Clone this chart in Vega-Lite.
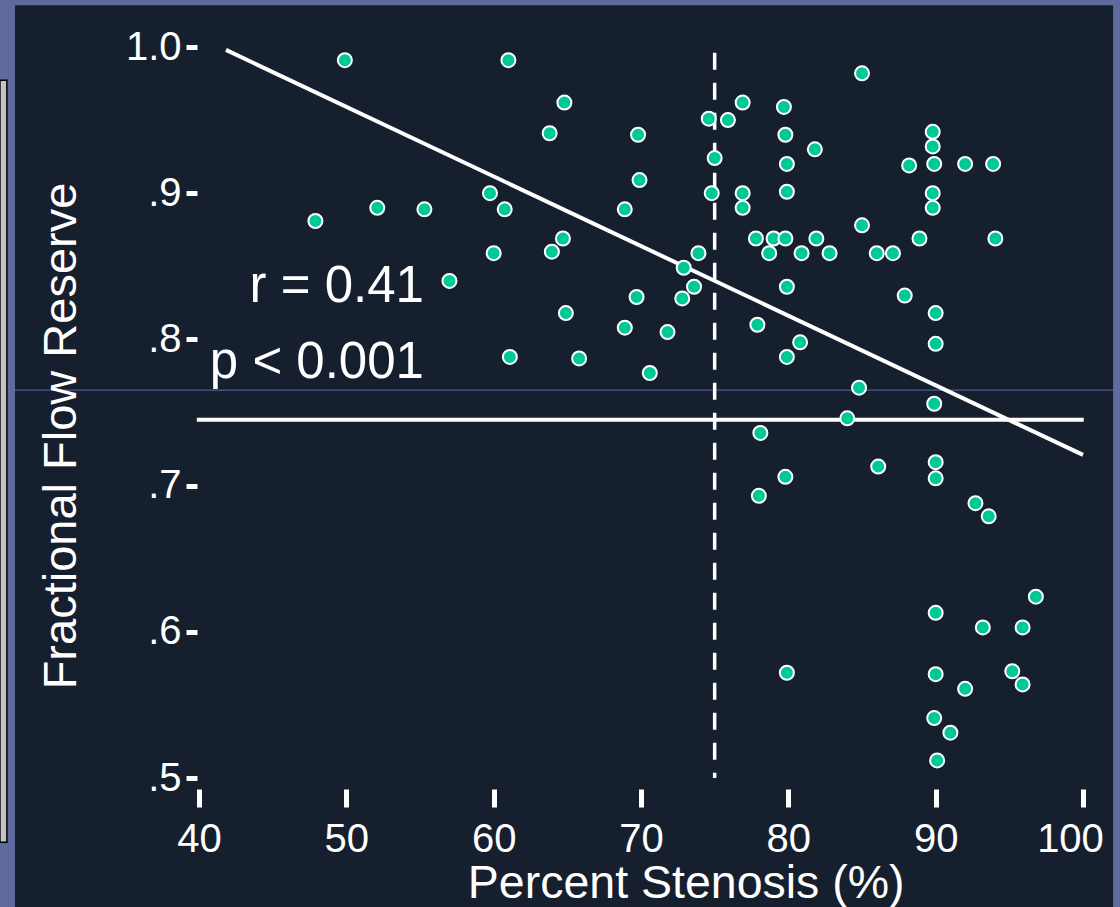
{
  "$schema": "https://vega.github.io/schema/vega-lite/v6.json",
  "width": 884,
  "height": 731,
  "autosize": {"type": "none"},
  "padding": {"left": 199, "top": 47, "right": 37, "bottom": 129},
  "background": "#5f6a9e",
  "config": {
    "view": {"stroke": null},
    "font": "Liberation Sans",
    "axis": {
      "domain": false,
      "grid": false,
      "tickColor": "#ffffff",
      "tickWidth": 5,
      "labelColor": "#ffffff",
      "labelFont": "Liberation Sans",
      "labelFontSize": 40,
      "titleColor": "#ffffff",
      "titleFont": "Liberation Sans",
      "titleFontWeight": "normal",
      "labelOverlap": false,
      "labelFlush": false
    }
  },
  "datasets": {
    "frame": [{"x": 27.51, "x2": 102.04, "y": 1.0285, "y2": 0.38}],
    "strip": [{"x": 26.49, "x2": 26.96, "y": 0.9773, "y2": 0.4561}],
    "blue": [{"x": 27.51, "x2": 102.04, "y": 0.7653}],
    "hline": [{"x": 39.85, "x2": 100.05, "y": 0.745}],
    "vline": [{"x": 75, "y": 0.996, "y2": 0.5}],
    "reg": [{"x": 41.83, "y": 0.998, "x2": 100, "y2": 0.721}],
    "notes": [
      {"x": 55.27, "y": 0.8258, "t": "r = 0.41"},
      {"x": 55.27, "y": 0.7735, "t": "p < 0.001"}
    ],
    "pts": [
      {"stenosis": 49.9, "ffr": 0.991},
      {"stenosis": 61.0, "ffr": 0.991},
      {"stenosis": 85.0, "ffr": 0.982},
      {"stenosis": 64.8, "ffr": 0.962},
      {"stenosis": 76.9, "ffr": 0.962},
      {"stenosis": 79.7, "ffr": 0.959},
      {"stenosis": 63.8, "ffr": 0.941},
      {"stenosis": 69.8, "ffr": 0.940},
      {"stenosis": 74.6, "ffr": 0.951},
      {"stenosis": 75.9, "ffr": 0.950},
      {"stenosis": 79.8, "ffr": 0.940},
      {"stenosis": 89.8, "ffr": 0.942},
      {"stenosis": 89.8, "ffr": 0.932},
      {"stenosis": 75.0, "ffr": 0.924},
      {"stenosis": 79.9, "ffr": 0.920},
      {"stenosis": 81.8, "ffr": 0.930},
      {"stenosis": 88.2, "ffr": 0.919},
      {"stenosis": 89.9, "ffr": 0.920},
      {"stenosis": 92.0, "ffr": 0.920},
      {"stenosis": 93.9, "ffr": 0.920},
      {"stenosis": 69.9, "ffr": 0.909},
      {"stenosis": 59.75, "ffr": 0.900},
      {"stenosis": 74.8, "ffr": 0.900},
      {"stenosis": 76.9, "ffr": 0.900},
      {"stenosis": 79.9, "ffr": 0.901},
      {"stenosis": 89.8, "ffr": 0.900},
      {"stenosis": 76.9, "ffr": 0.890},
      {"stenosis": 89.8, "ffr": 0.890},
      {"stenosis": 52.1, "ffr": 0.890},
      {"stenosis": 55.3, "ffr": 0.889},
      {"stenosis": 60.75, "ffr": 0.889},
      {"stenosis": 68.9, "ffr": 0.889},
      {"stenosis": 47.9, "ffr": 0.881},
      {"stenosis": 64.7, "ffr": 0.869},
      {"stenosis": 77.8, "ffr": 0.869},
      {"stenosis": 79.0, "ffr": 0.869},
      {"stenosis": 79.8, "ffr": 0.869},
      {"stenosis": 81.9, "ffr": 0.869},
      {"stenosis": 88.9, "ffr": 0.869},
      {"stenosis": 94.05, "ffr": 0.869},
      {"stenosis": 60.0, "ffr": 0.859},
      {"stenosis": 63.95, "ffr": 0.860},
      {"stenosis": 73.9, "ffr": 0.859},
      {"stenosis": 78.7, "ffr": 0.859},
      {"stenosis": 80.9, "ffr": 0.859},
      {"stenosis": 82.8, "ffr": 0.859},
      {"stenosis": 86.0, "ffr": 0.859},
      {"stenosis": 87.1, "ffr": 0.859},
      {"stenosis": 85.0, "ffr": 0.878},
      {"stenosis": 72.9, "ffr": 0.849},
      {"stenosis": 57.0, "ffr": 0.840},
      {"stenosis": 73.6, "ffr": 0.836},
      {"stenosis": 79.9, "ffr": 0.836},
      {"stenosis": 69.7, "ffr": 0.829},
      {"stenosis": 72.8, "ffr": 0.828},
      {"stenosis": 87.9, "ffr": 0.830},
      {"stenosis": 64.9, "ffr": 0.818},
      {"stenosis": 90.0, "ffr": 0.818},
      {"stenosis": 68.9, "ffr": 0.808},
      {"stenosis": 71.8, "ffr": 0.805},
      {"stenosis": 77.9, "ffr": 0.810},
      {"stenosis": 80.8, "ffr": 0.798},
      {"stenosis": 61.1, "ffr": 0.788},
      {"stenosis": 65.8, "ffr": 0.787},
      {"stenosis": 70.6, "ffr": 0.777},
      {"stenosis": 79.9, "ffr": 0.788},
      {"stenosis": 90.0, "ffr": 0.797},
      {"stenosis": 84.8, "ffr": 0.767},
      {"stenosis": 89.9, "ffr": 0.756},
      {"stenosis": 84.0, "ffr": 0.746},
      {"stenosis": 78.1, "ffr": 0.736},
      {"stenosis": 86.1, "ffr": 0.713},
      {"stenosis": 90.0, "ffr": 0.716},
      {"stenosis": 90.0, "ffr": 0.705},
      {"stenosis": 79.8, "ffr": 0.706},
      {"stenosis": 78.0, "ffr": 0.693},
      {"stenosis": 92.7, "ffr": 0.688},
      {"stenosis": 93.6, "ffr": 0.679},
      {"stenosis": 96.8, "ffr": 0.624},
      {"stenosis": 90.0, "ffr": 0.613},
      {"stenosis": 93.2, "ffr": 0.603},
      {"stenosis": 95.9, "ffr": 0.603},
      {"stenosis": 79.9, "ffr": 0.572},
      {"stenosis": 90.0, "ffr": 0.571},
      {"stenosis": 95.2, "ffr": 0.573},
      {"stenosis": 95.9, "ffr": 0.564},
      {"stenosis": 92.0, "ffr": 0.561},
      {"stenosis": 89.9, "ffr": 0.541},
      {"stenosis": 91.0, "ffr": 0.531},
      {"stenosis": 90.1, "ffr": 0.512}
    ]
  },
  "layer": [
    {
      "data": {"name": "frame"},
      "mark": {"type": "rect", "fill": "#161f2e", "stroke": null},
      "encoding": {
        "x": {"field": "x", "type": "quantitative", "title": "Percent Stenosis (%)", "scale": {"domain": [40, 100], "nice": false, "zero": false},
          "axis": {
            "zindex": 2,
            "values": [40, 50, 60, 70, 80, 90, 100],
            "offset": 11,
            "tickSize": 18,
            "labelPadding": 12,
            "labelOffset": {"condition": {"test": "datum.value >= 100", "value": -13}, "value": 0},
            "titleFontSize": 46.5,
            "titleX": 486.7,
            "titleY": 108,
            "titleAlign": "center",
            "titleBaseline": "alphabetic"
          }
        },
        "x2": {"field": "x2"},
        "y": {"field": "y", "type": "quantitative", "title": "Fractional Flow Reserve", "scale": {"domain": [0.5, 1.0], "nice": false, "zero": false},
          "axis": {
            "zindex": 2,
            "values": [0.5, 0.6, 0.7, 0.8, 0.9, 1.0],
            "labelExpr": "datum.value >= 0.999 ? '1.0' : '.' + format(datum.value * 10, '.0f')",
            "offset": 2,
            "tickSize": 11,
            "labelPadding": 5,
            "titleFontSize": 47,
            "titleX": -121.5,
            "titleY": 388.5,
            "titleAngle": 270,
            "titleAlign": "center",
            "titleBaseline": "alphabetic"
          }
        },
        "y2": {"field": "y2"}
      }
    },
    {
      "data": {"name": "strip"},
      "mark": {"type": "rect", "fill": "#c4c4c4", "stroke": "#000000", "strokeWidth": 1.5},
      "encoding": {
        "x": {"field": "x", "type": "quantitative", "title": "Percent Stenosis (%)"},
        "x2": {"field": "x2"},
        "y": {"field": "y", "type": "quantitative", "title": "Fractional Flow Reserve"},
        "y2": {"field": "y2"}
      }
    },
    {
      "data": {"name": "blue"},
      "mark": {"type": "rule", "color": "#5e6aa8", "strokeWidth": 1},
      "encoding": {
        "x": {"field": "x", "type": "quantitative", "title": "Percent Stenosis (%)"},
        "x2": {"field": "x2"},
        "y": {"field": "y", "type": "quantitative", "title": "Fractional Flow Reserve"}
      }
    },
    {
      "data": {"name": "hline"},
      "mark": {"type": "rule", "color": "#ffffff", "strokeWidth": 4},
      "encoding": {
        "x": {"field": "x", "type": "quantitative", "title": "Percent Stenosis (%)"},
        "x2": {"field": "x2"},
        "y": {"field": "y", "type": "quantitative", "title": "Fractional Flow Reserve"}
      }
    },
    {
      "data": {"name": "vline"},
      "mark": {"type": "rule", "color": "#ffffff", "strokeWidth": 3.5, "strokeDash": [17, 13]},
      "encoding": {
        "x": {"field": "x", "type": "quantitative", "title": "Percent Stenosis (%)"},
        "y": {"field": "y", "type": "quantitative", "title": "Fractional Flow Reserve"},
        "y2": {"field": "y2"}
      }
    },
    {
      "data": {"name": "reg"},
      "mark": {"type": "rule", "color": "#ffffff", "strokeWidth": 4},
      "encoding": {
        "x": {"field": "x", "type": "quantitative", "title": "Percent Stenosis (%)"},
        "x2": {"field": "x2"},
        "y": {"field": "y", "type": "quantitative", "title": "Fractional Flow Reserve"},
        "y2": {"field": "y2"}
      }
    },
    {
      "data": {"name": "pts"},
      "mark": {"type": "point", "shape": "circle", "filled": true, "fill": "#00c998", "stroke": "#ffffff", "strokeWidth": 2, "size": 196, "opacity": 1},
      "encoding": {
        "x": {"field": "stenosis", "type": "quantitative", "title": "Percent Stenosis (%)"},
        "y": {"field": "ffr", "type": "quantitative", "title": "Fractional Flow Reserve"}
      }
    },
    {
      "data": {"name": "notes"},
      "mark": {"type": "text", "color": "#ffffff", "font": "Liberation Sans", "fontSize": 51, "align": "right", "baseline": "alphabetic"},
      "encoding": {
        "x": {"field": "x", "type": "quantitative", "title": "Percent Stenosis (%)"},
        "y": {"field": "y", "type": "quantitative", "title": "Fractional Flow Reserve"},
        "text": {"field": "t", "type": "nominal"}
      }
    }
  ]
}
